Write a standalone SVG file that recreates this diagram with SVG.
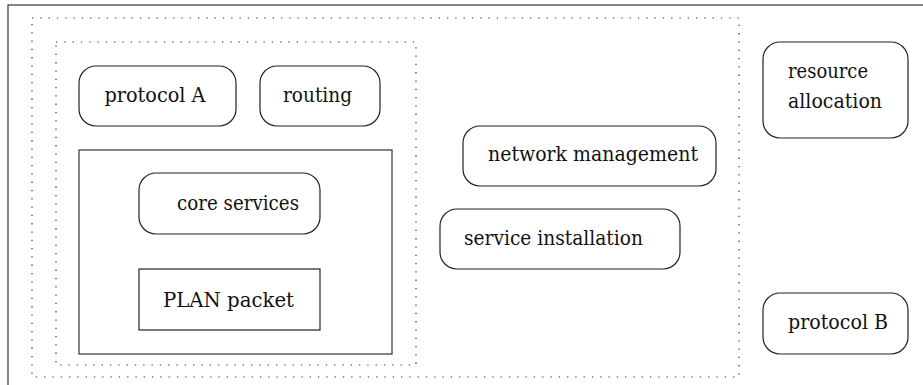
<svg xmlns="http://www.w3.org/2000/svg" width="923" height="385" viewBox="0 0 923 385">
<style>
.bg{fill:#fff}
.frame{fill:none;stroke:#333;stroke-width:1.2}
.dot{fill:none;stroke:#333;stroke-width:1.2;stroke-dasharray:1.3 7}
.node{fill:#fff;stroke:#222;stroke-width:1.2}
.t{font-family:'DejaVu Serif','Liberation Serif',serif;font-size:20px;fill:#111}
</style>
<rect class="bg" x="0" y="0" width="923" height="385"/>
<rect class="frame" x="8" y="5" width="1000" height="500"/>
<g id="outer-group"><rect class="dot" x="32" y="18" width="707" height="359"/></g>
<g id="inner-group"><rect class="dot" x="56" y="42" width="360" height="323"/></g>
<g id="plan-box"><rect class="frame" x="79" y="150" width="313" height="204"/></g>
<g id="protocol-a"><rect class="node" x="79" y="66" width="157" height="60" rx="17"/><text class="t" x="104.5" y="102" textLength="101" lengthAdjust="spacingAndGlyphs">protocol A</text></g>
<g id="routing"><rect class="node" x="260" y="66" width="120" height="60" rx="17"/><text class="t" x="283" y="102" textLength="69" lengthAdjust="spacingAndGlyphs">routing</text></g>
<g id="core-services"><rect class="node" x="139" y="173" width="181" height="61" rx="17"/><text class="t" x="177" y="210" textLength="122" lengthAdjust="spacingAndGlyphs">core services</text></g>
<g id="plan-packet"><rect class="node" x="139" y="269" width="181" height="61"/><text class="t" x="163" y="307" textLength="131" lengthAdjust="spacingAndGlyphs">PLAN packet</text></g>
<g id="network-management"><rect class="node" x="463" y="126" width="253" height="60" rx="17"/><text class="t" x="488" y="161" textLength="210" lengthAdjust="spacingAndGlyphs">network management</text></g>
<g id="service-installation"><rect class="node" x="440" y="209" width="240" height="60" rx="17"/><text class="t" x="464" y="245" textLength="179" lengthAdjust="spacingAndGlyphs">service installation</text></g>
<g id="resource-allocation"><rect class="node" x="763" y="42" width="145" height="96" rx="17"/><text class="t" x="788" y="78" textLength="80" lengthAdjust="spacingAndGlyphs">resource</text><text class="t" x="788" y="108" textLength="94" lengthAdjust="spacingAndGlyphs">allocation</text></g>
<g id="protocol-b"><rect class="node" x="763" y="293" width="145" height="61" rx="17"/><text class="t" x="788" y="329" textLength="100" lengthAdjust="spacingAndGlyphs">protocol B</text></g>
<g id="connectors"></g>
</svg>
